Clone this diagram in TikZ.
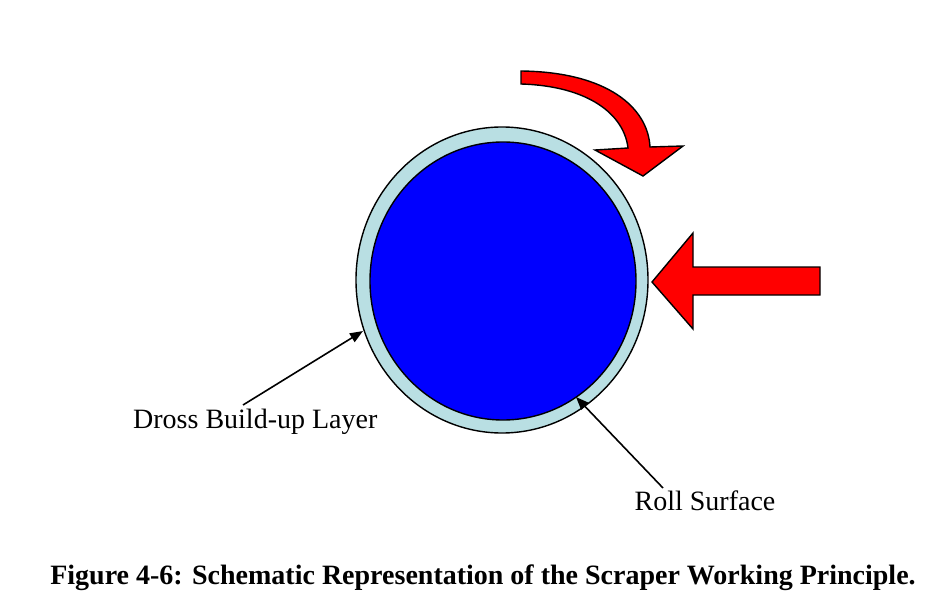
\documentclass[tikz,border=0pt]{standalone}
\usepackage{fontspec}
\setmainfont{Liberation Serif}
\usetikzlibrary{arrows.meta,shapes.geometric}
\definecolor{rollblue}{RGB}{0,0,255}
\definecolor{drossblue}{RGB}{185,223,227}
\definecolor{arrred}{RGB}{255,0,0}
\begin{document}
\begin{tikzpicture}[x=1pt,y=-1pt,
  outline/.style={draw=black,line width=1.4pt,line join=miter},
  leader/.style={draw=black,line width=1.6pt,-{Triangle[length=13pt,width=10pt]}},
  lbl/.style={inner sep=0pt,font=\fontsize{28}{33}\selectfont},
  captiontext/.style={inner sep=0pt,font=\fontsize{28}{33}\selectfont\bfseries}]
\useasboundingbox (0,0) rectangle (927,607);
% dross layer and roll
\node[ellipse,outline,fill=drossblue,minimum width=292pt,minimum height=306pt,inner sep=0pt] (dross) at (502,280) {};
\node[ellipse,outline,fill=rollblue,minimum width=266pt,minimum height=278pt,inner sep=0pt] (roll) at (503,281) {};
% curved rotation arrow
\draw[outline,fill=arrred] (521,71) .. controls (608,72) and (648,108) .. (650,147)
  -- (683,146) -- (643,176) -- (595,150) -- (628,148)
  .. controls (624,114) and (588,86) .. (521,84) -- cycle;
% scraper force arrow
\draw[outline,fill=arrred] (652,282) -- (693,233) -- (693,267) -- (820,267)
  -- (820,295) -- (693,295) -- (693,329) -- cycle;
% labels
\node[lbl,anchor=west] (drosslbl) at (133,422) {Dross Build-up Layer};
\node[lbl] (rolllbl) at (705,501) {Roll Surface};
\node[captiontext] (caption) at (483,578) {Figure 4-6: Schematic Representation of the Scraper Working Principle.};
% leaders
\coordinate (dstart) at (243,405);
\coordinate (dtip) at (363,331);
\coordinate (rstart) at (663,488);
\coordinate (rtip) at (576,397);
\draw[leader] (dstart) -- (dtip);
\draw[leader] (rstart) -- (rtip);
\end{tikzpicture}
\end{document}
